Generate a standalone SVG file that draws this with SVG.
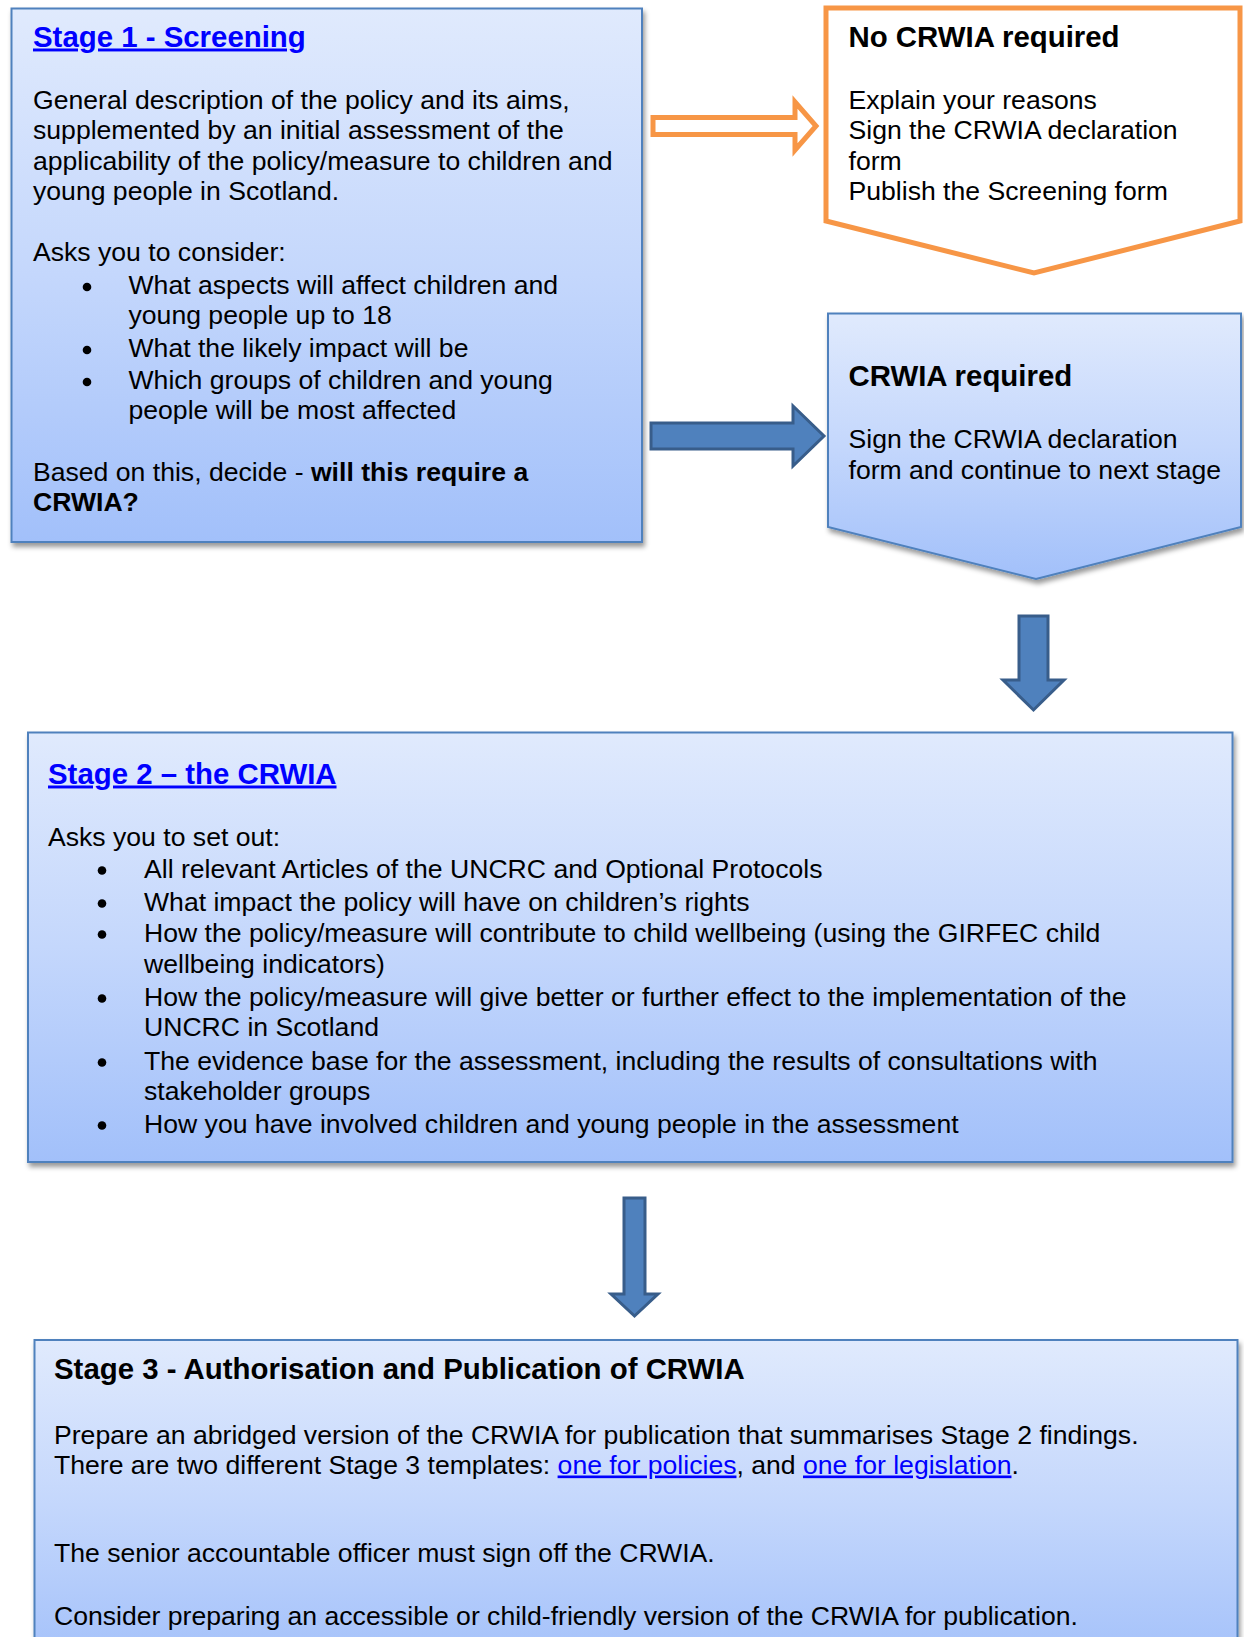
<svg xmlns="http://www.w3.org/2000/svg" width="1244" height="1637" viewBox="0 0 1244 1637">
<defs>
  <linearGradient id="blueGrad" x1="0" y1="0" x2="0" y2="1">
    <stop offset="0" stop-color="#e0eafd"/>
    <stop offset="0.5" stop-color="#c4d7fc"/>
    <stop offset="1" stop-color="#a2c0fa"/>
  </linearGradient>
  <filter id="shadow" x="-5%" y="-5%" width="112%" height="115%">
    <feDropShadow dx="2" dy="4" stdDeviation="2.5" flood-color="#000" flood-opacity="0.4"/>
  </filter>
</defs>
<style>
  text { font-family: "Liberation Sans", Arial, sans-serif; font-size: 26.6px; fill: #000; }
  .head { font-weight: bold; font-size: 29.4px; }
  .link { fill: #0000ff; text-decoration: underline; }
  .b { font-weight: bold; }
  .dot { fill: #000; }
  .box { fill: url(#blueGrad); stroke: #4f81bd; stroke-width: 2; }
  .orange { fill: #ffffff; stroke: #f79646; stroke-width: 5; stroke-linejoin: miter; }
  .oarrow { fill: #ffffff; stroke: #f79646; stroke-width: 5; }
  .barrow { fill: #4f81bd; stroke: #385d8a; stroke-width: 3; }
</style>
<rect x="0" y="0" width="1244" height="1637" fill="#ffffff"/>

<g id="stage1">
  <rect class="box" x="11.5" y="8.5" width="630.5" height="533.5" filter="url(#shadow)"/>
  <text x="33" y="46.5" class="head link">Stage 1 - Screening</text>
  <text x="33" y="108.5">General description of the policy and its aims,</text>
  <text x="33" y="139">supplemented by an initial assessment of the</text>
  <text x="33" y="169.5">applicability of the policy/measure to children and</text>
  <text x="33" y="200">young people in Scotland.</text>
  <text x="33" y="261">Asks you to consider:</text>
  <circle class="dot" cx="87" cy="287" r="4.3"/>
  <text x="128.5" y="293.5">What aspects will affect children and</text>
  <text x="128.5" y="323.5">young people up to 18</text>
  <circle class="dot" cx="87" cy="350" r="4.3"/>
  <text x="128.5" y="356.5">What the likely impact will be</text>
  <circle class="dot" cx="87" cy="382" r="4.3"/>
  <text x="128.5" y="388.5">Which groups of children and young</text>
  <text x="128.5" y="418.5">people will be most affected</text>
  <text x="33" y="480.5">Based on this, decide - <tspan class="b">will this require a</tspan></text>
  <text x="33" y="510.5" class="b">CRWIA?</text>
</g>

<g id="no-crwia">
  <polygon class="orange" points="826,8 1240,8 1240,221 1034,273 826,221"/>
  <text x="848.5" y="46.5" class="head">No CRWIA required</text>
  <text x="848.5" y="108.5">Explain your reasons</text>
  <text x="848.5" y="139">Sign the CRWIA declaration</text>
  <text x="848.5" y="169.5">form</text>
  <text x="848.5" y="200">Publish the Screening form</text>
</g>

<g id="crwia-required">
  <polygon class="box" points="828,313.5 1241,313.5 1241,527 1036,579 828,527" filter="url(#shadow)"/>
  <text x="848.5" y="385.5" class="head">CRWIA required</text>
  <text x="848.5" y="447.5">Sign the CRWIA declaration</text>
  <text x="848.5" y="478.5">form and continue to next stage</text>
</g>

<g id="stage2">
  <rect class="box" x="28" y="732.5" width="1204.5" height="429.5" filter="url(#shadow)"/>
  <text x="48" y="783.5" class="head link">Stage 2 – the CRWIA</text>
  <text x="48" y="845.5">Asks you to set out:</text>
  <circle class="dot" cx="102" cy="870.5" r="4.3"/>
  <text x="144" y="877.5">All relevant Articles of the UNCRC and Optional Protocols</text>
  <circle class="dot" cx="102" cy="903.5" r="4.3"/>
  <text x="144" y="910.5">What impact the policy will have on children’s rights</text>
  <circle class="dot" cx="102" cy="934.5" r="4.3"/>
  <text x="144" y="941.5">How the policy/measure will contribute to child wellbeing (using the GIRFEC child</text>
  <text x="144" y="972.5">wellbeing indicators)</text>
  <circle class="dot" cx="102" cy="998.5" r="4.3"/>
  <text x="144" y="1005.5">How the policy/measure will give better or further effect to the implementation of the</text>
  <text x="144" y="1035.5">UNCRC in Scotland</text>
  <circle class="dot" cx="102" cy="1062.5" r="4.3"/>
  <text x="144" y="1069.5">The evidence base for the assessment, including the results of consultations with</text>
  <text x="144" y="1099.5">stakeholder groups</text>
  <circle class="dot" cx="102" cy="1125.5" r="4.3"/>
  <text x="144" y="1132.5">How you have involved children and young people in the assessment</text>
</g>

<g id="stage3">
  <rect class="box" x="34.5" y="1340" width="1203" height="330" filter="url(#shadow)"/>
  <text x="54" y="1378.5" class="head">Stage 3 - Authorisation and Publication of CRWIA</text>
  <text x="54" y="1443.5">Prepare an abridged version of the CRWIA for publication that summarises Stage 2 findings.</text>
  <text x="54" y="1473.5">There are two different Stage 3 templates: <tspan class="link">one for policies</tspan>, and <tspan class="link">one for legislation</tspan>.</text>
  <text x="54" y="1561.5">The senior accountable officer must sign off the CRWIA.</text>
  <text x="54" y="1624.5">Consider preparing an accessible or child-friendly version of the CRWIA for publication.</text>
</g>

<g id="connectors">
  <polygon class="oarrow" points="653,117.5 795,117.5 795,102 816,126 795,150 795,134.5 653,134.5"/>
  <polygon class="barrow" points="651,423 793,423 793,406 824,436 793,466 793,449 651,449"/>
  <polygon class="barrow" points="1019,616 1048,616 1048,680 1064,680 1033.5,710 1003,680 1019,680"/>
  <polygon class="barrow" points="624,1198 645,1198 645,1294 658,1294 634.5,1316 611,1294 624,1294"/>
</g>
</svg>
